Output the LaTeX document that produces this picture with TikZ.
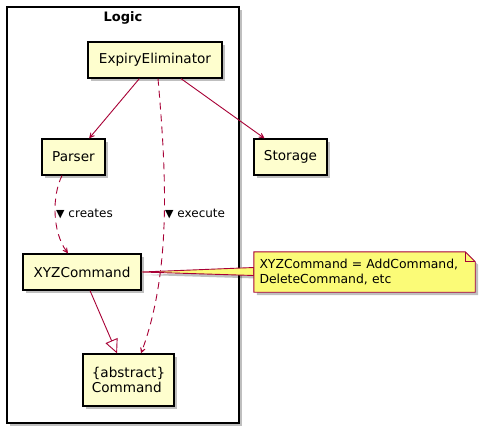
\documentclass[tikz,border=0pt]{standalone}
\usepackage{fontspec}
\setmainfont{DejaVu Sans}
\usetikzlibrary{arrows.meta,shadows,calc}
\definecolor{classfill}{HTML}{FEFECE}
\definecolor{umlred}{HTML}{A80036}
\definecolor{notefill}{HTML}{FBFB77}
\begin{document}
\begin{tikzpicture}[x=1pt,y=-1pt,
  shadowed/.style={drop shadow={shadow xshift=3pt,shadow yshift=-3pt,fill=black,opacity=0.25}},
  classbox/.style={draw=black,line width=1.2pt,fill=classfill,inner sep=0pt,
    font=\fontsize{13.6}{15}\selectfont,shadowed},
  assoc/.style={draw=umlred,line width=0.9pt,-{Stealth[length=9pt,width=9pt,inset=6pt]}},
  dep/.style={assoc,dash pattern=on 7pt off 5pt},
  inherit/.style={draw=umlred,line width=0.9pt,-{Triangle[fill=white,length=14pt,width=13pt]}},
  lbl/.style={font=\fontsize{12}{14}\selectfont,inner sep=0pt,anchor=west}]
\useasboundingbox (0,0) rectangle (480,434);
\fill[white] (0,0) rectangle (480,434);
% package
\node[draw=black,line width=1.5pt,fill=white,shadowed,minimum width=232,minimum height=416,inner sep=0pt] (pkg) at (123,215) {};
\node[font=\bfseries\fontsize{13}{15}\selectfont] (title) at (123,18) {Logic};
% classes
\node[classbox,minimum width=134,minimum height=36] (EE) at (155,60) {ExpiryEliminator};
\node[classbox,minimum width=63,minimum height=36] (Parser) at (73.5,157) {Parser};
\node[classbox,minimum width=73,minimum height=36] (Storage) at (290.5,157) {Storage};
\node[classbox,minimum width=118,minimum height=36] (XYZ) at (82,272) {XYZCommand};
\node[classbox,minimum width=91,minimum height=52,align=left] (Cmd) at (128.5,380) {\{abstract\}\\Command};
% edges
\draw[assoc] (EE) -- (Parser);
\draw[assoc] (EE) -- (Storage);
\draw[inherit] (XYZ) -- (Cmd);
\draw[dep] ($(Parser.south)+(-11.5,0)$) .. controls ($(Parser.south)+(-21.5,20)$) and ($(XYZ.north)+(-30,-22)$) .. ($(XYZ.north)+(-14,0)$);
\draw[dep] ($(EE.south)+(3,0)$) .. controls ($(EE.south)+(11,92)$) and ($(Cmd.north)+(43.5,-84)$) .. ($(Cmd.north)+(12.5,0)$);
\node[lbl] (lc) at (56,214) {{\fontsize{11}{11}\selectfont ▼} creates};
\node[lbl] (le) at (165,214) {{\fontsize{11}{11}\selectfont ▼} execute};
% note
\node[inner sep=0pt,minimum width=221,minimum height=40] (note) at (364.5,272) {};
\filldraw[fill=notefill,draw=umlred,line width=0.9pt,shadowed] (XYZ.east) -- ($(note.west)+(0,-4.5)$) -- ($(note.west)+(0,3.5)$) -- cycle;
\filldraw[fill=notefill,draw=umlred,line width=0.9pt,shadowed] (note.north west) -- ($(note.north east)+(-10,0)$) -- ($(note.north east)+(0,10)$) -- (note.south east) -- (note.south west) -- cycle;
\draw[umlred,line width=0.9pt] ($(note.north east)+(-10,0)$) -- ($(note.north east)+(-10,10)$) -- ($(note.north east)+(0,10)$);
\node[inner sep=0pt,text width=210,align=left,font=\fontsize{12.4}{15}\selectfont] (notetext) at (note.center) {XYZCommand = AddCommand,\\DeleteCommand, etc};
\end{tikzpicture}
\end{document}
